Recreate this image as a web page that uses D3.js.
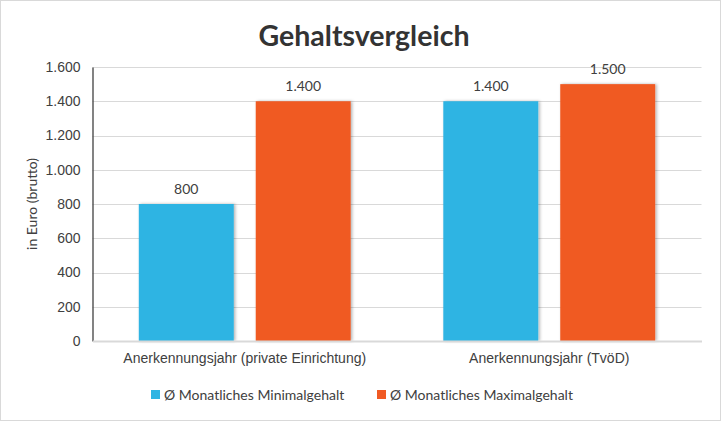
<!DOCTYPE html>
<html><head><meta charset="utf-8">
<script src="https://cdn.jsdelivr.net/npm/d3@7"></script>
<style>
html,body{margin:0;padding:0;background:#fff;}
svg{display:block;font-family:Lato,"Open Sans",sans-serif;}
</style></head><body>
<svg id="c" width="721" height="421"></svg>
<script>
const categories = ["Anerkennungsjahr (private Einrichtung)", "Anerkennungsjahr (TvöD)"];
const seriesNames = ["Ø Monatliches Minimalgehalt", "Ø Monatliches Maximalgehalt"];
const minValues = [800, 1400];
const maxValues = [1400, 1500];
const yTicks = [0, 200, 400, 600, 800, 1000, 1200, 1400, 1600];
const colors = ["#2EB4E3", "#F05A24"];
const title = "Gehaltsvergleich";
const yTitle = "in Euro (brutto)";

const svg = d3.select("#c");
const W = 721, H = 421;
const m = {l: 92.5, r: 19.5, t: 67, b: 80};
const fmt = v => d3.format(",")(v).replace(/,/g, ".");
const fs = "14px";

svg.append("rect").attr("x",0.5).attr("y",0.5).attr("width",W-1).attr("height",H-1)
  .attr("fill","#fff").attr("stroke","#d9d9d9");

const defs = svg.append("defs");
const f = defs.append("filter").attr("id","sh").attr("x","-20%").attr("y","-20%").attr("width","140%").attr("height","140%");
f.append("feDropShadow").attr("dx",1.5).attr("dy",0).attr("stdDeviation",1.5).attr("flood-color","#000").attr("flood-opacity",0.3);

const x0 = d3.scaleBand().domain(categories).range([m.l, W - m.r]).paddingInner(0).paddingOuter(0);
const x1 = d3.scaleBand().domain(seriesNames).range([0, x0.bandwidth()]).paddingInner(0.188).paddingOuter(0.396);
const y = d3.scaleLinear().domain([0, 1600]).range([H - m.b, m.t]);

// grid
svg.append("g").selectAll("line").data(yTicks.filter(d => d > 0)).join("line")
  .attr("x1", m.l).attr("x2", W - m.r)
  .attr("y1", d => Math.round(y(d)) + 0.5).attr("y2", d => Math.round(y(d)) + 0.5)
  .attr("stroke", "#d9d9d9").attr("stroke-width", 1);

// y axis
const yAxis = d3.axisLeft(y).tickValues(yTicks).tickFormat(fmt).tickSize(0).tickPadding(12);
const gy = svg.append("g").attr("transform", `translate(${m.l},0)`).call(yAxis);
gy.select(".domain").attr("stroke", "#404040").attr("stroke-width", 1.3);
gy.selectAll("text").attr("fill", "#404040").style("font-size", fs);

// bars
const data = categories.map((c, i) => ({c, vals: [minValues[i], maxValues[i]]}));
const groups = svg.append("g").selectAll("g").data(data).join("g")
  .attr("transform", d => `translate(${x0(d.c)},0)`);
groups.selectAll("rect").data(d => d.vals.map((v, j) => ({v, s: seriesNames[j], j}))).join("rect")
  .attr("x", d => x1(d.s)).attr("width", x1.bandwidth())
  .attr("y", d => y(d.v)).attr("height", d => y(0) - y(d.v))
  .attr("fill", d => colors[d.j]).attr("filter", "url(#sh)");
groups.selectAll("text").data(d => d.vals.map((v, j) => ({v, s: seriesNames[j], j}))).join("text")
  .attr("x", d => x1(d.s) + x1.bandwidth() / 2).attr("y", d => y(d.v) - 10)
  .attr("text-anchor", "middle").attr("fill", "#404040").style("font-size", fs)
  .text(d => fmt(d.v));

// x axis
const gx = svg.append("g").attr("transform", `translate(0,${y(0)})`)
  .call(d3.axisBottom(x0).tickSize(0).tickPadding(12));
gx.select(".domain").attr("stroke", "#d9d9d9").attr("stroke-width", 2);
gx.selectAll("text").attr("fill", "#404040").style("font-size", fs);

// title
svg.append("text").attr("x", 364).attr("y", 46).attr("text-anchor", "middle")
  .attr("fill", "#333").style("font-size", "28.5px").style("font-weight", "bold").text(title);

// y title
svg.append("text").attr("transform", `translate(37,${(y(0)+y(1600))/2}) rotate(-90)`)
  .attr("text-anchor", "middle").attr("fill", "#404040").style("font-size", fs).text(yTitle);

// legend
const legX = [151, 377];
const lg = svg.append("g").selectAll("g").data(seriesNames).join("g")
  .attr("transform", (d, i) => `translate(${legX[i]},390)`);
lg.append("rect").attr("width", 9).attr("height", 9).attr("fill", (d, i) => colors[i]);
lg.append("text").attr("x", 13).attr("y", 9.5).attr("fill", "#404040").style("font-size", fs).text(d => d);
</script></body></html>
